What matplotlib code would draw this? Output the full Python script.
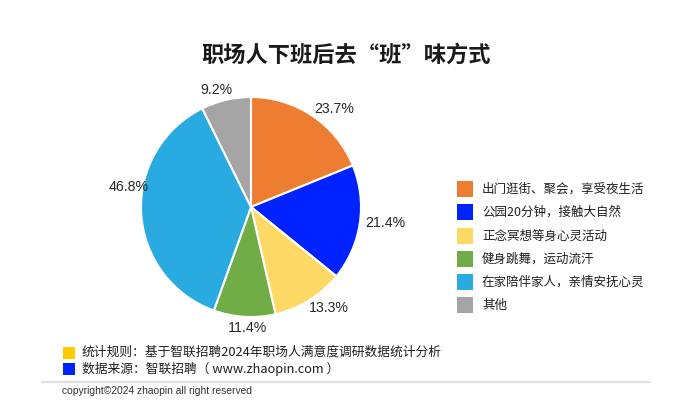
import numpy as np
import matplotlib
matplotlib.use('Agg')
import matplotlib.pyplot as plt
from matplotlib.patches import Rectangle
from matplotlib.lines import Line2D

CJK = ['Noto Sans CJK SC', 'DejaVu Sans']
LAT = ['Liberation Sans', 'DejaVu Sans']

# ── Datos ───────────────────────────────────────────────────────────────────
categorias = ['出门逛街、聚会，享受夜生活', '公园20分钟，接触大自然', '正念冥想等身心灵活动',
              '健身跳舞，运动流汗', '在家陪伴家人，亲情安抚心灵', '其他']
valores = [23.7, 21.4, 13.3, 11.4, 46.8, 9.2]
colores = ['#ED7D31', '#0022FF', '#FFD966', '#70AD47', '#29ABE2', '#A5A5A5']
titulo = '职场人下班后去“班”味方式'
notas = ['统计规则：基于智联招聘2024年职场人满意度调研数据统计分析',
         '数据来源：智联招聘（ www.zhaopin.com ）']
notas_col = ['#FFCC00', '#0022FF']
copyright_txt = 'copyright©2024 zhaopin all right reserved'

# ajuste fino de etiquetas: (distancia relativa, giro en grados)
ajustes = [(1.17, -6.6), (1.23, 1.6), (1.16, 5.7), (1.10, 1.7), (1.13, -12.7), (1.11, 3.2)]

W, H = 693, 416
fig = plt.figure(figsize=(W / 100, H / 100), dpi=100)
fig.patch.set_facecolor('white')


def fx(px):
    return px / W


def fy(py):
    return 1 - py / H


# pie: centro (251, 207), radio 110 px
cx, cy, r = 251, 207, 110
ax = fig.add_axes([fx(cx - r), fy(cy + r), 2 * r / W, 2 * r / H])
wedges, texts = ax.pie(valores, colors=colores, startangle=90, counterclock=False,
                       labels=[f'{v:.1f}%' for v in valores],
                       wedgeprops=dict(edgecolor='white', linewidth=1.5),
                       textprops=dict(fontsize=10.2, color='#262626', family=LAT))
for w, t, (d, rot) in zip(wedges, texts, ajustes):
    ang = np.deg2rad((w.theta1 + w.theta2) / 2 + rot)
    t.set_position((d * np.cos(ang), d * np.sin(ang)))
    t.set_ha('center')
    t.set_va('center')
ax.set_xlim(-1, 1)
ax.set_ylim(-1, 1)
ax.set_aspect('auto')
ax.axis('off')

fig.text(fx(346), fy(55), titulo, ha='center', va='center', fontsize=16,
         fontweight='bold', color='#1A1A1A', family=CJK)

# leyenda
for i, (cat, col) in enumerate(zip(categorias, colores)):
    yc = 189.3 + i * 23.2
    fig.patches.append(Rectangle((fx(457), fy(yc + 8)), 16 / W, 16 / H,
                                 transform=fig.transFigure, facecolor=col,
                                 edgecolor='none'))
    fig.text(fx(482), fy(yc), cat, ha='left', va='center', fontsize=9,
             color='#1F1F1F', family=CJK)

# notas
for i, (txt, col) in enumerate(zip(notas, notas_col)):
    yc = 352.5 + i * 16
    fig.patches.append(Rectangle((fx(62.5), fy(yc + 6)), 12 / W, 12 / H,
                                 transform=fig.transFigure, facecolor=col,
                                 edgecolor='none'))
    fig.text(fx(82), fy(yc), txt, ha='left', va='center', fontsize=9.2,
             color='#1F1F1F', family=CJK)

fig.lines.append(Line2D([fx(42), fx(650)], [fy(381.5), fy(381.5)],
                        transform=fig.transFigure, color='#E0E0E0', linewidth=1.6))
fig.text(fx(62), fy(391), copyright_txt, ha='left', va='center', fontsize=7.4,
         color='#333333', family=LAT)

fig.savefig('out.png', dpi=100, facecolor='white')
